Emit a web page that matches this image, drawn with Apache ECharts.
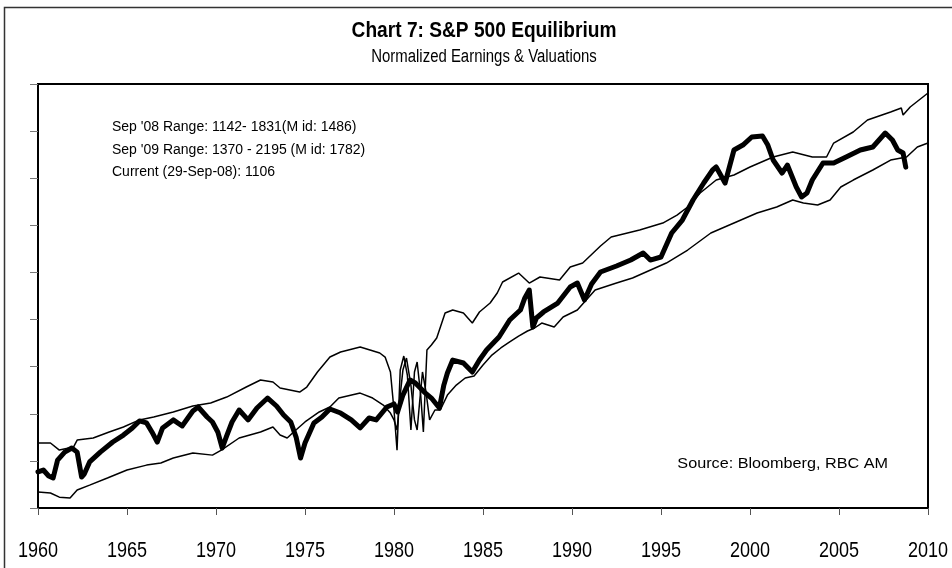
<!DOCTYPE html>
<html>
<head>
<meta charset="utf-8">
<script src="https://cdn.jsdelivr.net/npm/echarts@6/dist/echarts.min.js"></script>
<style>
html,body{margin:0;padding:0;background:#fff;}
#chart{width:952px;height:568px;}
</style>
</head>
<body>
<div id="chart"></div>
<script>
// ---- Data (S&P 500 index levels, plotted on a natural-log scale) ----
const xTickLabels = ['1960','1965','1970','1975','1980','1985','1990','1995','2000','2005','2010'];
const xTickYears = [1960,1965,1970,1975,1980,1985,1990,1995,2000,2005,2010];

const spYears = [1960.0,1960.3,1960.6,1960.85,1961.1,1961.5,1961.9,1962.2,1962.45,1962.6,1962.9,1963.5,1964.2,1964.8,1965.3,1965.7,1966.1,1966.4,1966.7,1967.0,1967.6,1968.1,1968.7,1969.0,1969.5,1969.8,1970.1,1970.35,1970.6,1970.9,1971.3,1971.8,1972.3,1972.9,1973.4,1973.8,1974.2,1974.5,1974.75,1975.0,1975.5,1975.95,1976.4,1977.0,1977.6,1978.1,1978.6,1979.0,1979.6,1980.0,1980.2,1980.5,1980.9,1981.2,1981.7,1982.1,1982.55,1982.8,1983.0,1983.3,1983.9,1984.4,1984.8,1985.2,1985.9,1986.5,1987.1,1987.35,1987.6,1987.8,1988.0,1988.4,1989.2,1989.9,1990.3,1990.7,1991.1,1991.6,1992.5,1993.3,1994.0,1994.4,1995.0,1995.6,1996.2,1996.8,1997.4,1997.9,1998.1,1998.6,1999.1,1999.6,2000.1,2000.7,2001.0,2001.3,2001.8,2002.1,2002.6,2002.9,2003.2,2003.5,2004.1,2004.7,2005.4,2006.2,2006.9,2007.6,2008.0,2008.3,2008.6,2008.75];
const spValues = [52.5,53.5,50.4,49.4,59.1,64.0,66.7,64.0,49.9,51.4,58.0,64.0,70.8,75.9,81.5,87.4,85.7,78.3,70.8,81.5,88.3,83.1,96.5,100.5,90.9,86.5,78.3,66.7,75.2,86.5,97.5,88.3,99.5,109.9,101.5,92.7,86.5,74.4,60.3,70.1,85.7,90.9,98.5,94.6,88.3,81.5,90.0,88.3,100.5,103.6,95.6,113.2,131.6,127.7,116.7,109.9,99.5,125.1,141.1,160.7,156.0,142.6,160.7,177.6,202.3,239.8,265.0,298.9,323.7,223.6,244.7,259.9,284.2,333.6,347.1,292.8,343.8,387.6,411.5,436.9,468.6,436.9,450.4,572.4,651.7,796.1,943.6,1074.7,1107.6,943.6,1312.6,1379.6,1495.1,1510,1379.6,1187.6,1042.9,1129.5,906.8,820.5,853.8,972.3,1152.5,1152.5,1224.1,1312.6,1352.8,1555.8,1450.6,1312.6,1273.8,1106];

const upperYears = [1960.0,1960.7,1961.2,1962.0,1962.2,1963.1,1964.0,1964.8,1965.7,1966.5,1967.6,1968.7,1969.7,1970.6,1971.7,1972.5,1973.2,1973.6,1974.7,1975.1,1975.7,1976.4,1977.0,1978.1,1979.2,1979.5,1979.8,1980.0,1980.17,1980.35,1980.55,1980.75,1980.95,1981.15,1981.3,1981.5,1981.65,1981.85,1982.1,1982.4,1982.87,1983.3,1983.9,1984.4,1984.8,1985.4,1985.8,1986.1,1987.0,1987.6,1988.2,1989.3,1989.9,1990.6,1991.6,1992.2,1993.8,1995.1,1995.9,1996.5,1997.2,1998.1,1999.1,2000.0,2001.3,2002.4,2003.5,2004.3,2004.7,2005.8,2006.6,2007.9,2008.5,2008.6,2009.0,2010.0];
const upperValues = [70.1,70.1,65.3,67.4,72.2,73.7,78.3,82.3,88.3,90.9,95.6,101.5,104.6,111.0,122.7,131.6,129.0,121.5,116.7,122.7,142.6,165.6,174.2,183.1,172.4,165.6,142.6,97.5,65.3,145.4,167.3,138.3,79.8,142.6,157.6,113.2,78.3,177.6,186.7,200.3,257.2,265.0,257.2,232.7,259.9,284.2,314.1,350.8,383.6,347.1,368.7,357.7,407.4,424.0,502.6,550.0,589.8,632.5,685.1,742.5,853.8,972.3,1022.1,1107.6,1224.1,1287.1,1224.1,1224.1,1407.7,1572.1,1771.8,1920.1,1998.2,1862.2,2018.2,2320.9];

const lowerYears = [1960.0,1960.7,1961.2,1961.8,1962.2,1962.9,1963.9,1965.0,1966.1,1966.9,1967.6,1968.7,1969.8,1970.3,1971.3,1972.5,1973.2,1973.6,1974.0,1974.3,1975.0,1975.8,1976.4,1976.9,1978.1,1978.8,1979.4,1979.8,1980.0,1980.17,1980.35,1980.5,1980.7,1980.95,1981.15,1981.3,1981.45,1981.6,1981.8,1982.0,1982.3,1982.6,1983.0,1983.5,1984.0,1984.5,1985.0,1985.5,1986.0,1986.5,1987.0,1987.5,1987.9,1988.3,1989.0,1989.5,1990.3,1991.3,1992.5,1993.4,1995.3,1996.5,1997.8,1999.1,2000.4,2001.5,2002.4,2003.0,2003.8,2004.5,2005.1,2005.8,2006.9,2007.9,2008.5,2008.8,2009.4,2010.0];
const lowerValues = [42.9,42.5,40.8,40.4,43.8,46.0,49.4,53.5,56.2,57.4,60.3,63.4,62.1,65.3,73.7,78.3,82.3,75.9,73.7,77.5,86.5,95.6,100.5,109.9,115.5,109.9,102.5,94.6,88.3,79.8,113.2,145.4,164.0,125.1,88.3,79.8,107.8,142.6,116.7,88.3,97.5,97.5,113.2,125.1,134.3,137.0,152.9,168.9,181.3,192.5,204.3,214.9,221.4,232.7,223.6,247.2,265.0,323.7,347.1,365.0,424.0,482.9,572.4,632.5,699.0,742.5,796.1,772.6,757.2,796.1,906.8,972.3,1074.7,1187.6,1212.0,1224.1,1352.8,1407.7];

const titleText = 'Chart 7: S&P 500 Equilibrium';
const subtitleText = 'Normalized Earnings & Valuations';
const noteLines = [
  "Sep '08 Range: 1142- 1831(M id: 1486)",
  "Sep '09 Range: 1370 - 2195 (M id: 1782)",
  "Current (29-Sep-08): 1106"
];
const sourceText = 'Source: Bloomberg, RBC AM';

// ---- Build ----
const LN_MIN = 3.60, LN_MAX = 7.84;
function toPairs(xs, vs) {
  const n = Math.min(xs.length, vs.length);
  const out = [];
  for (let i = 0; i < n; i++) out.push([xs[i], Math.log(vs[i])]);
  return out;
}
const SANS = "'Liberation Sans',Arial,sans-serif";

function condensedText(x, y, text, font, sx, align) {
  return {type: 'text', x: x, y: y, scaleX: sx, silent: true,
    style: {x: 0, y: 0, text: text, font: font, fill: '#000', align: align || 'center', verticalAlign: 'middle'}};
}

const chart = echarts.init(document.getElementById('chart'), null, {renderer: 'canvas'});
const baseGraphics = [
  {type: 'rect', shape: {x: 4.5, y: 7.5, width: 1000, height: 700}, style: {fill: 'none', stroke: '#333', lineWidth: 1.5}, silent: true, z: -1},
  condensedText(484, 31, titleText, 'bold 22px ' + SANS, 0.87),
  condensedText(484, 57, subtitleText, '18px ' + SANS, 0.83),
  condensedText(112, 127, noteLines[0], '14px ' + SANS, 1.0, 'left'),
  condensedText(112, 150, noteLines[1], '14px ' + SANS, 1.0, 'left'),
  condensedText(112, 172, noteLines[2], '14px ' + SANS, 1.0, 'left'),
  condensedText(888, 464, sourceText, '15px ' + SANS, 1.08, 'right')
];

chart.setOption({
  backgroundColor: '#fff',
  animation: false,
  grid: {left: 38, right: 24, top: 84, bottom: 60, show: true, borderColor: '#000', borderWidth: 2, containLabel: false},
  xAxis: {
    type: 'value', min: 1960, max: 2010, interval: 5,
    axisLine: {show: true, lineStyle: {color: '#000', width: 2}},
    axisTick: {show: true, length: 7, lineStyle: {color: '#555', width: 1}},
    axisLabel: {show: false},
    splitLine: {show: false}
  },
  yAxis: {
    type: 'value', min: LN_MIN, max: LN_MAX, interval: (LN_MAX - LN_MIN) / 9,
    axisLine: {show: true, lineStyle: {color: '#000', width: 2}},
    axisTick: {show: true, length: 8, lineStyle: {color: '#777', width: 1}},
    axisLabel: {show: false},
    splitLine: {show: false}
  },
  series: [
    {name: 'Upper', type: 'line', data: toPairs(upperYears, upperValues), showSymbol: false,
      lineStyle: {color: '#000', width: 1.5}, z: 2},
    {name: 'Lower', type: 'line', data: toPairs(lowerYears, lowerValues), showSymbol: false,
      lineStyle: {color: '#000', width: 1.5}, z: 2},
    {name: 'S&P 500', type: 'line', data: toPairs(spYears, spValues), showSymbol: false,
      lineStyle: {color: '#000', width: 5, join: 'round', cap: 'round'}, z: 3}
  ],
  graphic: baseGraphics
});

// x-axis year labels, positioned through the axis scale, drawn condensed
const labelGraphics = xTickYears.map(function (yr, i) {
  const px = chart.convertToPixel({xAxisIndex: 0}, yr);
  return condensedText(px, 551, xTickLabels[i], '22px ' + SANS, 0.82);
});
chart.setOption({graphic: baseGraphics.concat(labelGraphics)});
</script>
</body>
</html>
